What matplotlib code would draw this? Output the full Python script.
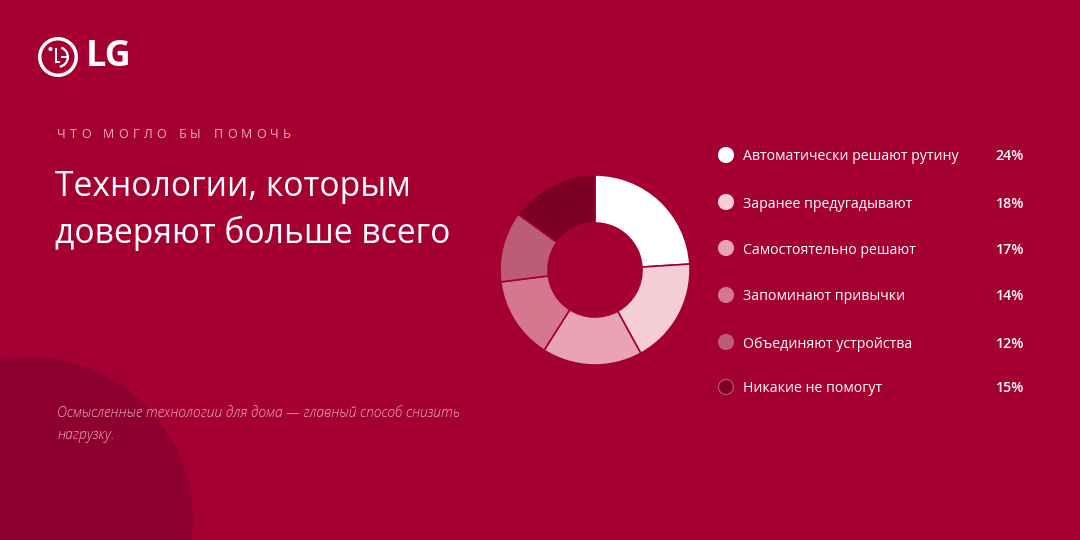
import matplotlib
matplotlib.use("Agg")
import matplotlib.pyplot as plt
from matplotlib.patches import Circle, Wedge, Rectangle

# --- data ---
labels = ["Автоматически решают рутину", "Заранее предугадывают", "Самостоятельно решают",
          "Запоминают привычки", "Объединяют устройства", "Никакие не помогут"]
values = [24, 18, 17, 14, 12, 15]
colors = ["#FFFFFF", "#F5CDD7", "#E8A3B4", "#D5788F", "#BC5D78", "#7C0026"]

eyebrow = "ЧТО МОГЛО БЫ ПОМОЧЬ"
title_lines = ["Технологии, которым", "доверяют больше всего"]
note_lines = ["Осмысленные технологии для дома — главный способ снизить", "нагрузку."]

BG = "#A50034"
W, H = 1080, 540
FONT = ["Open Sans", "DejaVu Sans"]


def Y(y):
    # pixel row (from top) -> data y
    return H - y


fig = plt.figure(figsize=(10.8, 5.4), dpi=100, facecolor=BG)
ax = fig.add_axes([0, 0, 1, 1])
ax.set_facecolor(BG)

# dark circle bottom-left
ax.add_patch(Circle((30, Y(520)), 163, color="#8E002F", zorder=0, lw=0))

# LG logo (face mark)
cx, cy = 58, Y(57)
ax.add_patch(Circle((cx, cy), 20, color="white", zorder=2, lw=0))
ax.add_patch(Circle((cx, cy), 16.5, color=BG, zorder=3, lw=0))
ax.add_patch(Wedge((cx, cy), 11, -80, 70, width=2.3, color="white", zorder=4, lw=0))
ax.add_patch(Rectangle((cx + 3, cy - 1.15), 7.5, 2.3, color="white", zorder=4, lw=0))
ax.add_patch(Rectangle((cx - 3.5, cy - 6), 2.3, 15, color="white", zorder=4, lw=0))
ax.add_patch(Rectangle((cx - 3.5, cy - 6), 5.5, 2.3, color="white", zorder=4, lw=0))
ax.add_patch(Circle((cx - 7.5, cy + 8), 2.0, color="white", zorder=4, lw=0))
ax.text(86, Y(57), "LG", color="white", fontsize=26, fontweight="bold",
        family=FONT, va="center", ha="left")

# eyebrow with letter spacing
fig.canvas.draw()
renderer = fig.canvas.get_renderer()
x = 57
for ch in eyebrow:
    t = ax.text(x, Y(134), ch, color="#F0AFC2", fontsize=9, family=FONT,
                va="center", ha="left")
    if ch == " ":
        x += 8.5
    else:
        bb = t.get_window_extent(renderer=renderer)
        x += bb.width + 4.15

# title
for i, line in enumerate(title_lines):
    ax.text(55, Y(187 + i * 46), line, color="white", fontsize=24.2, family=FONT,
            va="center", ha="left")

# footnote
for i, line in enumerate(note_lines):
    ax.text(57, Y(413 + i * 23), line, color="#EDAABD", fontsize=10, family=FONT,
            style="italic", fontweight="light", va="center", ha="left")

# donut
ax.pie(values, colors=colors, startangle=90, counterclock=False,
       center=(595, Y(270)), radius=95, frame=True,
       wedgeprops=dict(width=48, edgecolor=BG, linewidth=1.2))

# legend
row_y = [155, 202, 248, 295, 342, 387]
for lab, val, col, ry in zip(labels, values, colors, row_y):
    ec = "#C25576" if col == "#7C0026" else col
    ax.add_patch(Circle((726, Y(ry)), 7.5, facecolor=col, edgecolor=ec, lw=0.8, zorder=5))
    ax.text(743, Y(ry), lab, color="white", fontsize=10.2, family=FONT,
            va="center_baseline", ha="left")
    ax.text(1024, Y(ry), f"{val}%", color="white", fontsize=10.2, family=FONT,
            fontweight="semibold", va="center_baseline", ha="right")

ax.set_xlim(0, W)
ax.set_ylim(0, H)
ax.set_aspect("auto")
ax.axis("off")

fig.savefig("out.png", dpi=100, facecolor=BG)
